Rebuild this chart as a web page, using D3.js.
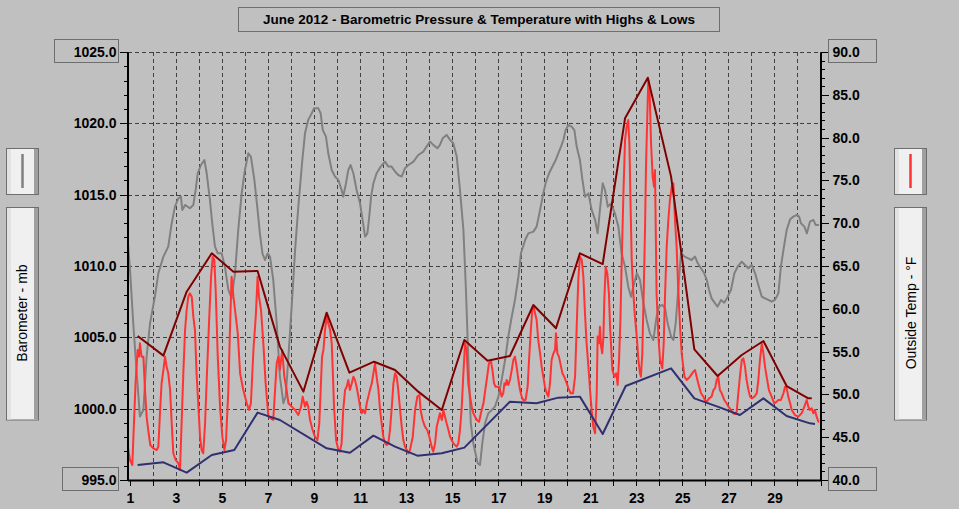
<!DOCTYPE html>
<html>
<head>
<meta charset="utf-8">
<script src="https://cdn.jsdelivr.net/npm/d3@7"></script>
<style>
body { margin: 0; background: #c0c0c0; }
svg { display: block; font-family: "Liberation Sans", Arial, sans-serif; }
</style>
</head>
<body>
<svg id="chart" width="959" height="509"></svg>
<script>
// tick labels
const dayLabels = [1, 3, 5, 7, 9, 11, 13, 15, 17, 19, 21, 23, 25, 27, 29];
const pressureTicks = [995, 1000, 1005, 1010, 1015, 1020, 1025];
const tempTicks = [40, 45, 50, 55, 60, 65, 70, 75, 80, 85, 90];

// barometer, [day of month, mb]
const pressure = [
  [0.9,1012.06],[1.01,1009.73],[1.15,1005.99],[1.30,1002.48],[1.44,999.45],[1.59,999.91],[1.73,1003.65],[1.88,1005.99],
  [2.09,1007.86],[2.24,1009.49],[2.46,1010.66],[2.67,1011.36],[2.82,1013.0],[2.96,1014.16],[3.11,1014.75],[3.22,1014.86],
  [3.28,1013.93],[3.40,1014.28],[3.61,1014.05],[3.76,1014.28],[3.86,1015.33],[3.95,1016.5],[4.09,1017.08],[4.24,1017.43],
  [4.34,1016.5],[4.48,1014.63],[4.58,1013.0],[4.70,1011.36],[4.82,1010.89],[4.99,1010.89],[5.13,1009.96],[5.28,1008.32],
  [5.42,1007.74],[5.57,1009.49],[5.71,1012.53],[5.86,1015.1],[6.00,1016.73],[6.15,1017.9],[6.26,1017.67],[6.41,1016.03],
  [6.55,1013.93],[6.65,1012.29],[6.76,1010.89],[6.87,1010.42],[6.99,1010.89],[7.09,1010.66],[7.23,1009.02],[7.38,1005.99],
  [7.52,1002.25],[7.67,1000.38],[7.77,1000.85],[7.89,1003.65],[8.03,1007.15],[8.18,1011.13],[8.32,1014.16],[8.48,1017.2],
  [8.61,1019.3],[8.75,1020.24],[8.90,1020.70],[9.00,1021.05],[9.19,1021.05],[9.29,1020.70],[9.38,1019.54],[9.52,1019.07],
  [9.62,1017.90],[9.77,1016.73],[9.91,1016.27],[10.06,1016.03],[10.20,1015.33],[10.27,1014.86],[10.39,1015.80],[10.49,1016.73],
  [10.59,1017.08],[10.71,1016.50],[10.85,1015.33],[11.00,1014.40],[11.11,1013.23],[11.22,1012.06],[11.32,1012.29],[11.40,1013.46],
  [11.48,1014.86],[11.58,1015.80],[11.72,1016.50],[11.90,1016.97],[12.08,1017.32],[12.23,1016.97],[12.37,1016.97],[12.52,1016.62],
  [12.66,1016.38],[12.81,1016.27],[12.95,1016.85],[13.10,1017.08],[13.32,1017.32],[13.53,1017.78],[13.75,1018.02],[13.89,1018.37],
  [14.04,1018.72],[14.18,1018.49],[14.36,1018.25],[14.47,1018.49],[14.59,1018.95],[14.76,1019.19],[14.91,1018.84],[15.05,1018.60],
  [15.20,1017.67],[15.34,1015.33],[15.49,1012.53],[15.60,1008.32],[15.70,1003.65],[15.81,998.98],[15.92,997.58],[16.11,996.17],
  [16.21,996.05],[16.31,997.57],[16.43,998.97],[16.57,999.67],[16.72,999.91],[16.86,1000.14],[17.01,1000.84],[17.15,1002.01],
  [17.30,1003.41],[17.44,1005.05],[17.59,1006.45],[17.73,1007.62],[17.88,1009.25],[17.99,1010.89],[18.17,1011.82],[18.31,1012.29],
  [18.53,1012.41],[18.67,1012.76],[18.82,1013.93],[18.96,1015.09],[19.06,1015.80],[19.21,1016.50],[19.35,1016.96],[19.50,1017.43],
  [19.61,1017.90],[19.73,1018.37],[19.83,1018.83],[19.93,1019.53],[20.05,1019.88],[20.19,1019.77],[20.31,1019.53],[20.41,1018.37],
  [20.55,1017.43],[20.66,1016.03],[20.77,1014.86],[20.92,1015.09],[21.06,1013.93],[21.21,1013.23],[21.32,1012.29],[21.42,1013.93],
  [21.54,1015.80],[21.64,1015.33],[21.76,1014.16],[21.90,1014.39],[22.07,1013.69],[22.22,1012.76],[22.36,1010.89],[22.51,1009.95],
  [22.65,1008.55],[22.77,1007.85],[22.87,1008.55],[23.02,1009.49],[23.16,1009.02],[23.31,1007.38],[23.45,1006.22],[23.59,1005.28],
  [23.74,1004.81],[23.88,1006.45],[23.99,1007.15],[24.13,1007.27],[24.25,1007.03],[24.36,1005.98],[24.51,1005.05],[24.61,1004.81],
  [24.71,1005.98],[24.83,1008.55],[24.94,1010.89],[25.09,1010.66],[25.26,1010.54],[25.40,1010.42],[25.55,1010.66],[25.67,1010.19],
  [25.81,1009.84],[25.95,1009.49],[26.06,1009.02],[26.16,1008.32],[26.27,1007.73],[26.42,1007.38],[26.53,1007.15],[26.68,1007.62],
  [26.82,1007.43],[26.97,1007.85],[27.11,1008.32],[27.26,1009.49],[27.40,1009.95],[27.58,1010.30],[27.72,1010.07],[27.87,1009.84],
  [28.01,1010.07],[28.16,1009.49],[28.30,1008.67],[28.45,1007.85],[28.59,1007.73],[28.73,1007.62],[28.88,1007.50],[29.02,1007.62],
  [29.17,1008.08],[29.28,1009.95],[29.39,1011.12],[29.53,1012.52],[29.68,1013.27],[29.82,1013.46],[29.97,1013.58],[30.07,1013.46],
  [30.15,1012.99],[30.30,1012.76],[30.41,1012.29],[30.54,1013.11],[30.69,1013.23],[30.79,1012.88],[30.93,1012.88]
];

// outside temperature, [day of month, °F]
const temperature = [
  [0.9,44.1],[1.01,42.34],[1.11,41.75],[1.18,46.62],[1.25,51.29],[1.34,55.19],[1.40,54.41],[1.44,55.97],[1.51,54.41],[1.59,54.41],
  [1.66,50.52],[1.73,47.40],[1.80,45.84],[1.89,44.09],[2.02,43.70],[2.17,43.50],[2.24,43.90],[2.31,47.79],[2.38,51.29],[2.46,52.85],
  [2.53,54.41],[2.60,53.24],[2.67,52.46],[2.75,50.52],[2.82,46.62],[2.89,43.12],[2.99,42.34],[3.11,41.95],[3.18,41.17],[3.25,46.62],
  [3.33,52.85],[3.40,57.52],[3.47,59.86],[3.54,61.42],[3.61,61.81],[3.69,61.42],[3.76,59.08],[3.83,57.52],[3.90,52.46],[3.98,48.57],
  [4.05,45.06],[4.12,43.50],[4.19,43.12],[4.27,46.62],[4.34,51.68],[4.44,58.30],[4.53,63.75],[4.60,66.09],[4.67,65.70],[4.73,62.20],
  [4.82,54.41],[4.92,48.57],[5.02,45.06],[5.11,43.50],[5.18,44.67],[5.28,50.52],[5.35,57.52],[5.42,63.75],[5.50,61.42],[5.57,59.86],
  [5.69,57.14],[5.79,52.46],[5.93,50.52],[6.08,48.96],[6.18,48.18],[6.26,48.96],[6.37,55.19],[6.47,59.08],[6.55,63.75],[6.61,61.42],
  [6.70,59.86],[6.80,55.97],[6.90,51.29],[7.02,47.40],[7.13,47.20],[7.23,47.01],[7.31,50.52],[7.38,53.63],[7.45,54.41],[7.52,52.85],
  [7.62,55.19],[7.71,52.07],[7.81,50.52],[7.89,48.96],[8.03,48.57],[8.18,48.18],[8.32,47.59],[8.44,48.57],[8.51,49.74],[8.61,48.57],
  [8.68,49.15],[8.75,48.57],[8.83,47.01],[8.94,45.84],[9.04,45.06],[9.15,44.67],[9.23,46.62],[9.29,50.52],[9.35,54.41],[9.41,55.19],
  [9.48,57.52],[9.55,59.08],[9.62,58.30],[9.70,57.52],[9.77,55.97],[9.81,53.24],[9.87,48.57],[9.96,44.67],[10.06,43.50],[10.13,43.31],
  [10.20,44.29],[10.27,48.18],[10.35,50.52],[10.42,50.90],[10.49,51.68],[10.56,50.52],[10.64,51.29],[10.71,52.07],[10.78,51.68],[10.85,50.90],
  [10.93,49.74],[11.00,48.57],[11.07,47.79],[11.14,48.18],[11.22,47.79],[11.29,48.96],[11.36,49.74],[11.43,50.52],[11.51,51.29],[11.58,52.46],
  [11.65,53.63],[11.72,52.07],[11.80,50.52],[11.87,48.18],[11.94,46.62],[12.01,45.06],[12.09,44.29],[12.16,44.09],[12.23,44.29],[12.30,45.84],
  [12.37,48.18],[12.45,51.29],[12.52,52.46],[12.59,52.07],[12.66,50.52],[12.74,48.18],[12.81,46.23],[12.88,44.67],[12.95,43.90],[13.03,43.50],
  [13.10,43.12],[13.17,43.50],[13.29,45.06],[13.39,48.18],[13.49,49.74],[13.58,49.93],[13.63,48.18],[13.72,47.01],[13.82,46.23],[13.92,45.84],
  [14.01,45.06],[14.11,43.90],[14.18,43.31],[14.26,44.29],[14.33,46.23],[14.40,47.01],[14.47,47.79],[14.55,47.01],[14.62,48.18],[14.69,47.40],
  [14.76,46.62],[14.84,45.84],[14.91,45.06],[14.98,44.67],[15.05,44.29],[15.12,44.09],[15.20,43.90],[15.27,44.29],[15.34,45.84],[15.41,48.18],
  [15.49,52.46],[15.56,55.97],[15.63,55.19],[15.70,51.29],[15.78,49.74],[15.85,48.57],[15.92,47.79],[16.07,47.01],[16.17,46.8],[16.25,47.79],
  [16.36,48.96],[16.46,50.90],[16.54,52.46],[16.60,53.63],[16.69,53.82],[16.75,52.85],[16.82,51.29],[16.89,50.90],[17.01,50.90],[17.08,50.51],
  [17.15,49.74],[17.22,50.13],[17.27,51.29],[17.33,51.10],[17.37,51.68],[17.44,51.10],[17.51,51.68],[17.59,52.85],[17.66,54.02],[17.73,54.41],
  [17.80,53.24],[17.88,51.68],[17.95,50.51],[18.02,49.74],[18.09,49.35],[18.19,49.35],[18.28,50.90],[18.34,54.02],[18.41,57.14],[18.48,59.86],
  [18.54,60.25],[18.60,59.47],[18.67,58.69],[18.74,56.36],[18.82,54.80],[18.89,53.24],[18.96,52.07],[19.03,50.90],[19.11,50.13],[19.18,49.74],
  [19.25,51.29],[19.32,54.02],[19.40,54.80],[19.47,55.19],[19.51,57.14],[19.57,54.80],[19.64,54.41],[19.73,53.24],[19.79,52.46],[19.87,52.07],
  [19.98,51.29],[20.05,50.71],[20.15,50.13],[20.25,50.13],[20.34,52.07],[20.41,57.91],[20.48,63.36],[20.55,66.09],[20.63,65.70],[20.70,63.75],
  [20.77,59.47],[20.84,55.97],[20.92,53.24],[20.99,50.51],[21.06,48.18],[21.13,46.23],[21.21,45.45],[21.28,50.13],[21.32,56.75],[21.38,55.97],
  [21.42,57.91],[21.47,55.58],[21.52,54.80],[21.57,56.75],[21.61,61.03],[21.67,64.92],[21.74,64.14],[21.81,61.81],[21.86,57.91],[21.90,55.97],
  [21.96,52.85],[22.05,52.07],[22.13,52.46],[22.19,51.10],[22.25,54.02],[22.31,58.69],[22.36,64.92],[22.44,73.49],[22.51,79.72],[22.58,81.28],
  [22.65,82.06],[22.70,79.33],[22.74,73.49],[22.80,65.70],[22.87,61.81],[22.94,59.08],[23.02,56.75],[23.09,54.02],[23.16,52.46],[23.20,52.07],
  [23.26,54.80],[23.32,61.81],[23.38,69.59],[23.42,76.60],[23.48,82.83],[23.52,86.73],[23.58,85.17],[23.64,79.33],[23.71,75.44],[23.77,74.27],
  [23.81,76.22],[23.88,61.81],[23.96,56.75],[24.03,54.02],[24.13,53.04],[24.19,55.97],[24.25,61.81],[24.32,67.26],[24.39,70.37],[24.46,72.71],
  [24.54,74.27],[24.61,74.66],[24.68,70.37],[24.75,67.26],[24.83,61.81],[24.90,57.91],[24.97,54.80],[25.09,52.07],[25.19,51.68],[25.33,52.07],
  [25.48,52.66],[25.55,52.85],[25.62,52.07],[25.69,51.29],[25.81,50.13],[25.91,49.74],[25.98,49.35],[26.06,49.15],[26.16,49.54],[26.27,49.74],
  [26.35,50.51],[26.42,50.71],[26.49,51.68],[26.56,52.07],[26.63,50.51],[26.71,50.13],[26.82,49.35],[26.92,48.96],[27.00,48.57],[27.11,48.18],
  [27.21,47.79],[27.29,47.71],[27.36,47.98],[27.43,50.13],[27.50,52.07],[27.58,54.02],[27.65,54.21],[27.72,53.24],[27.79,51.68],[27.87,50.51],
  [27.94,49.74],[28.01,49.54],[28.13,49.74],[28.23,50.13],[28.30,51.68],[28.37,54.02],[28.45,55.97],[28.52,54.80],[28.59,53.24],[28.66,52.07],
  [28.76,50.51],[28.88,49.74],[28.99,48.96],[29.10,49.15],[29.17,49.35],[29.28,49.35],[29.39,50.13],[29.46,50.90],[29.53,50.71],[29.60,49.74],
  [29.68,48.96],[29.75,48.18],[29.89,47.59],[30.04,47.40],[30.18,47.79],[30.30,48.57],[30.40,49.35],[30.47,48.57],[30.54,48.18],[30.62,48.37],
  [30.69,47.79],[30.76,48.18],[30.83,47.40],[30.91,46.81],[30.95,46.81]
];

// daily highs and lows, [day of month, °F]
const highs = [
  [1.34,56.82],[2.46,54.53],[3.47,62.00],[4.56,66.48],[5.50,64.34],[6.55,64.42],[7.52,55.58],[8.54,50.32],[9.55,59.55],[10.54,52.54],
  [11.61,53.82],[12.52,52.85],[13.53,50.32],[14.55,48.18],[15.53,56.36],[16.54,53.94],[17.51,54.49],[18.53,60.44],[19.51,57.72],[20.55,66.48],
  [21.54,65.23],[22.51,82.25],[23.50,87.0],[24.51,75.44],[25.52,55.27],[26.53,52.15],[27.58,54.60],[28.52,56.24],[29.53,50.98],[30.47,49.54],
  [30.62,49.54]
];
const lows = [
  [1.34,41.75],[2.46,42.06],[3.47,40.86],[4.56,42.92],[5.54,43.51],[6.55,47.87],[7.52,47.01],[9.55,43.70],[10.56,43.19],[11.58,45.18],
  [12.52,43.90],[13.49,42.84],[14.55,43.12],[15.53,43.78],[17.51,49.15],[18.67,48.96],[19.61,49.62],[20.55,49.74],[21.54,45.37],[22.54,50.98],
  [24.51,53.04],[25.52,49.54],[26.53,48.57],[27.50,47.59],[28.52,49.54],[29.53,47.48],[30.54,46.62],[30.76,46.54]
];

const plotLeft = 127.5, plotRight = 820.5, plotTop = 52, plotBottom = 480;
const font = '"Liberation Sans", Arial, sans-serif';

let chart = d3.select("#chart");

let x = d3.scaleLinear().domain([0.9, 31]).range([plotLeft, plotRight]);
let yP = d3.scaleLinear().domain([995, 1025]).range([plotBottom, plotTop]);
let yT = d3.scaleLinear().domain([40, 90]).range([plotBottom, plotTop]);

// title
chart.append("rect")
    .attr("x", 238.5).attr("y", 7.5).attr("width", 481).attr("height", 24)
    .attr("fill", "none").attr("stroke", "#6e6e6e");
chart.append("text")
    .attr("x", 479).attr("y", 23.5)
    .attr("text-anchor", "middle")
    .attr("font-size", "13.5px").attr("font-weight", "bold")
    .text("June 2012 - Barometric Pressure & Temperature with Highs & Lows");

// grid
let grid = chart.append("g")
    .attr("stroke", "#404040").attr("stroke-dasharray", "4,3")
    .attr("shape-rendering", "crispEdges");
grid.selectAll(".h")
    .data(pressureTicks.slice(1))
    .enter().append("line")
    .attr("x1", plotLeft).attr("x2", plotRight)
    .attr("y1", function(d) { return Math.round(yP(d)) + 0.5; })
    .attr("y2", function(d) { return Math.round(yP(d)) + 0.5; });
grid.selectAll(".v")
    .data(d3.range(2, 31))
    .enter().append("line")
    .attr("y1", plotTop).attr("y2", plotBottom)
    .attr("x1", function(d) { return Math.round(x(d)) + 0.5; })
    .attr("x2", function(d) { return Math.round(x(d)) + 0.5; });

// series
chart.append("clipPath").attr("id", "plot")
    .append("rect").attr("x", plotLeft).attr("y", plotTop)
    .attr("width", plotRight - plotLeft).attr("height", plotBottom - plotTop);

let plot = chart.append("g").attr("clip-path", "url(#plot)").attr("fill", "none")
    .attr("stroke-width", 2).attr("stroke-linejoin", "round");

plot.append("path")
    .attr("stroke", "#808080")
    .attr("d", d3.line().x(function(d) { return x(d[0]); }).y(function(d) { return yP(d[1]); })(pressure));

let tempLine = d3.line().x(function(d) { return x(d[0]); }).y(function(d) { return yT(d[1]); });

plot.append("path").attr("stroke", "#ff3333").attr("d", tempLine(temperature));
plot.append("path").attr("stroke", "#800000").attr("d", tempLine(highs));
plot.append("path").attr("stroke", "#303070").attr("d", tempLine(lows));

// axes
function styleAxis(g) {
    g.attr("font-size", 14).attr("font-weight", "bold").attr("font-family", font);
    g.selectAll("line").attr("stroke", "#000").attr("shape-rendering", "crispEdges");
    g.select(".domain").attr("stroke", "#000").attr("stroke-width", 2);
    g.selectAll("text").attr("fill", "#000");
}

chart.append("g")
    .attr("transform", "translate(" + plotLeft + ",0)")
    .call(d3.axisLeft(yP).tickValues(d3.range(995, 1026)).tickSize(4).tickSizeOuter(0).tickFormat(""))
    .call(styleAxis);
chart.append("g")
    .attr("transform", "translate(" + plotLeft + ",0)")
    .call(d3.axisLeft(yP).tickValues(pressureTicks).tickSize(8).tickSizeOuter(0).tickPadding(3).tickFormat(d3.format(".1f")))
    .call(styleAxis);

chart.append("g")
    .attr("transform", "translate(" + plotRight + ",0)")
    .call(d3.axisRight(yT).tickValues(d3.range(40, 91)).tickSize(4).tickSizeOuter(0).tickFormat(""))
    .call(styleAxis);
chart.append("g")
    .attr("transform", "translate(" + plotRight + ",0)")
    .call(d3.axisRight(yT).tickValues(tempTicks).tickSize(8).tickSizeOuter(0).tickPadding(4).tickFormat(d3.format(".1f")))
    .call(styleAxis);

chart.append("g")
    .attr("transform", "translate(0," + plotBottom + ")")
    .call(d3.axisBottom(x).tickValues(d3.range(1, 32)).tickSize(6).tickSizeOuter(0).tickPadding(7)
        .tickFormat(function(d) { return dayLabels.indexOf(d) >= 0 ? d : ""; }))
    .call(styleAxis);

// boxes round the end labels
let endBoxes = [
    { x: 54.5, y: 39.5, w: 64, h: 23 },
    { x: 62.5, y: 467.5, w: 56, h: 23 },
    { x: 828.5, y: 39.5, w: 48, h: 23 },
    { x: 828.5, y: 467.5, w: 48, h: 23 }
];
chart.append("g").selectAll("rect")
    .data(endBoxes)
    .enter().append("rect")
    .attr("x", function(d) { return d.x; }).attr("y", function(d) { return d.y; })
    .attr("width", function(d) { return d.w; }).attr("height", function(d) { return d.h; })
    .attr("fill", "none").attr("stroke", "#6e6e6e");

// legend keys
function legendKey(x0, color, label, textX) {
    let g = chart.append("g");
    [[148.5, 46], [207.5, 212.5]].forEach(function(b) {
        g.append("rect").attr("x", x0).attr("y", b[0]).attr("width", 32).attr("height", b[1])
            .attr("fill", "#f0f0f0").attr("stroke", "#6e6e6e");
        g.append("rect").attr("x", x0 + 0.5).attr("y", b[0] + 0.5).attr("width", 4).attr("height", b[1] - 1)
            .attr("fill", "#e2e2e2");
        g.append("rect").attr("x", x0 + 27.5).attr("y", b[0] + 0.5).attr("width", 4).attr("height", b[1] - 1)
            .attr("fill", "#a0a0a0");
    });
    g.append("line")
        .attr("x1", x0 + 16).attr("x2", x0 + 16).attr("y1", 154).attr("y2", 188)
        .attr("stroke", color).attr("stroke-width", 2.5);
    g.append("text")
        .attr("transform", "translate(" + textX + ",313)rotate(-90)")
        .attr("text-anchor", "middle")
        .attr("font-size", "14px")
        .attr("fill", "#000")
        .text(label);
}
legendKey(6.5, "#808080", "Barometer - mb", 27);
legendKey(894.5, "#ff3333", "Outside Temp - °F", 916);
</script>
</body>
</html>
